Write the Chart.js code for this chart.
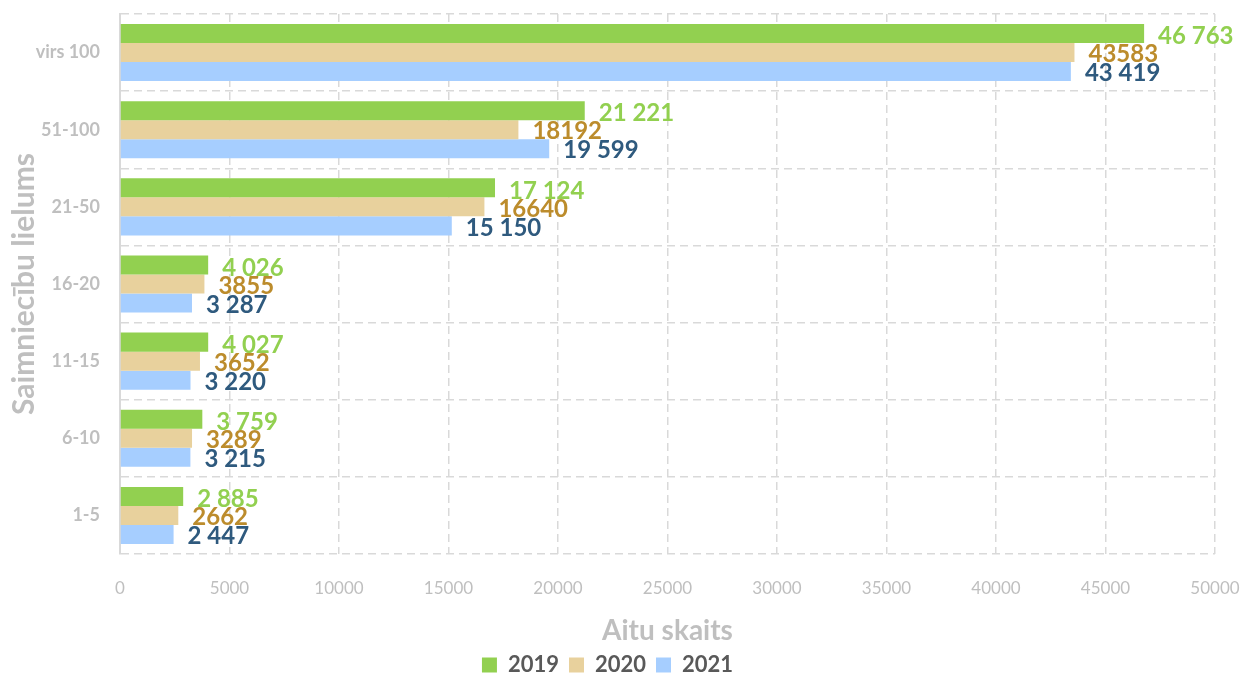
<!DOCTYPE html>
<html>
<head>
<meta charset="utf-8">
<script src="https://cdn.jsdelivr.net/npm/chart.js@4.4.0/dist/chart.umd.min.js"></script>
<style>
  html, body { margin: 0; padding: 0; background: #ffffff; }
  #wrap { width: 1246px; height: 677px; }
</style>
</head>
<body>
<div id="wrap"><canvas id="chartContext" width="1246" height="677"></canvas></div>
<script>
// Farm size groups (top to bottom)
const categories = ["virs 100", "51-100", "21-50", "16-20", "11-15", "6-10", "1-5"];

// Number of sheep per year
const values2019 = [46763, 21221, 17124, 4026, 4027, 3759, 2885];
const values2020 = [43583, 18192, 16640, 3855, 3652, 3289, 2662];
const values2021 = [43419, 19599, 15150, 3287, 3220, 3215, 2447];

const seriesNames = ["2019", "2020", "2021"];
const xTicks = [0, 5000, 10000, 15000, 20000, 25000, 30000, 35000, 40000, 45000, 50000];

// Thousands separators as shown in the labels (2020 has none)
const labelSeparators = [" ", "", " "];

const barColors = ["#92D050", "#E8D19D", "#A6CEFF"];
const labelColors = ["#92D050", "#BC8C2C", "#2F5A7E"];
const greyText = "#BFBFBF";
const gridColor = "#D9D9D9";
const fontFamily = "Lato, 'Open Sans', sans-serif";

function formatValue(v, sep) {
    return String(v).replace(/\B(?=(\d{3})+(?!\d))/g, sep);
}

// Draw the value labels just right of each bar
const valueLabels = {
    id: "valueLabels",
    afterDatasetsDraw(chart) {
        const ctx = chart.ctx;
        ctx.save();
        ctx.font = "bold 24px " + fontFamily;
        ctx.textAlign = "left";
        ctx.textBaseline = "middle";
        chart.data.datasets.forEach((ds, i) => {
            const meta = chart.getDatasetMeta(i);
            ctx.fillStyle = labelColors[i];
            meta.data.forEach((bar, j) => {
                const text = formatValue(ds.data[j], labelSeparators[i]);
                ctx.fillText(text, bar.x + 14, bar.y + (i === 0 ? 3 : 2));
            });
        });
        ctx.restore();
    }
};

// no overflow padding from tick labels, the plot area is fixed below
function noPadding(scale) {
    scale.paddingLeft = 0;
    scale.paddingRight = 0;
    scale.paddingTop = 0;
    scale.paddingBottom = 0;
}

const context = document.getElementById("chartContext");

new Chart(context, {
    type: "bar",
    data: {
        labels: categories,
        datasets: [
            { label: seriesNames[0], data: values2019, backgroundColor: barColors[0] },
            { label: seriesNames[1], data: values2020, backgroundColor: barColors[1] },
            { label: seriesNames[2], data: values2021, backgroundColor: barColors[2] },
        ],
    },
    options: {
        indexAxis: "y",
        responsive: false,
        animation: false,
        datasets: {
            bar: { categoryPercentage: 0.74, barPercentage: 1.0 },
        },
        layout: {
            padding: { top: 14, right: 31, left: 0, bottom: -9 },
        },
        plugins: {
            legend: {
                position: "bottom",
                labels: {
                    boxWidth: 15,
                    boxHeight: 15,
                    padding: 10,
                    color: "#595959",
                    font: { family: fontFamily, size: 22, weight: "bold" },
                },
            },
            tooltip: { enabled: false },
        },
        scales: {
            x: {
                min: 0,
                max: 50000,
                afterBuildTicks: (scale) => {
                    scale.ticks = xTicks.map((v) => ({ value: v }));
                },
                grid: {
                    color: gridColor,
                    lineWidth: 1.5,
                    drawTicks: false,
                },
                border: { display: false, dash: [8, 5] },
                ticks: {
                    padding: 24,
                    color: greyText,
                    font: { family: fontFamily, size: 17 },
                    callback: (v) => String(v),
                },
                title: {
                    display: true,
                    text: "Aitu skaits",
                    color: greyText,
                    padding: { top: 0, bottom: -4 },
                    font: { family: fontFamily, size: 28, weight: "bold" },
                },
                afterFit: (scale) => { scale.height = 90; noPadding(scale); },
            },
            y: {
                grid: {
                    color: gridColor,
                    lineWidth: 1.5,
                    drawTicks: false,
                },
                border: { display: true, color: gridColor, width: 2, dash: [8, 5] },
                ticks: {
                    padding: 20,
                    color: greyText,
                    font: { family: fontFamily, size: 18, weight: "bold" },
                },
                title: {
                    display: true,
                    text: "Saimniecību lielums",
                    color: greyText,
                    padding: { top: 6, bottom: 0 },
                    font: { family: fontFamily, size: 30, weight: "bold" },
                },
                afterFit: (scale) => { scale.width = 120; noPadding(scale); },
            },
        },
    },
    plugins: [valueLabels],
});
</script>
</body>
</html>
